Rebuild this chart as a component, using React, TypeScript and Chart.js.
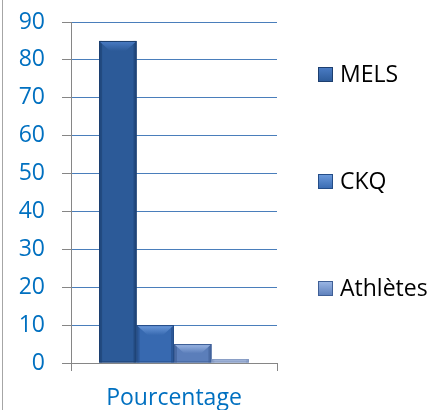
import React, { useEffect, useRef } from "react";
import { Chart, registerables } from "chart.js";

Chart.register(...registerables);

const categories = ["Pourcentage"];
const seriesNames = ["MELS", "CKQ", "Athlètes", "Autres"];
const melsValues = [85];
const ckqValues = [10];
const athletesValues = [5];
const autresValues = [1];
const legendNames = ["MELS", "CKQ", "Athlètes"];

const baseColors = ["#2c5a98", "#3769b0", "#5b7eba", "#a3b6da"];
const bevelColors = ["#4b7dc6", "#6e9cdd", "#9db8e6", "#c3d2ec"];
const edgeColors = ["#1d3f6f", "#244d88", "#3f5f96", "#7f95bf"];

const FONT = "'Open Sans', 'Liberation Sans', sans-serif";

const decorPlugin = {
  id: "decor",
  beforeDraw(chart: any) {
    const ctx = chart.ctx;
    ctx.save();
    ctx.strokeStyle = "#a6a6a6";
    ctx.lineWidth = 1;
    ctx.beginPath();
    ctx.moveTo(2.5, 0);
    ctx.lineTo(2.5, chart.height);
    ctx.stroke();
    ctx.restore();
  },
  afterDatasetsDraw(chart: any) {
    const ctx = chart.ctx;
    ctx.save();
    chart.data.datasets.forEach((ds: any, di: number) => {
      const meta = chart.getDatasetMeta(di);
      meta.data.forEach((bar: any) => {
        const { x, y, base, width } = bar.getProps(["x", "y", "base", "width"], true);
        const left = x - width / 2;
        const right = x + width / 2;
        const h = base - y;
        if (h <= 0) return;
        const bev = Math.min(10, h / 2);
        ctx.fillStyle = edgeColors[di];
        ctx.globalAlpha = 0.6;
        ctx.fillRect(left, y, 3, h);
        ctx.fillRect(right - 3, y, 3, h);
        ctx.globalAlpha = 1;
        const g = ctx.createLinearGradient(0, y, 0, y + bev);
        g.addColorStop(0, bevelColors[di]);
        g.addColorStop(1, baseColors[di]);
        ctx.fillStyle = g;
        ctx.beginPath();
        ctx.moveTo(left + 1, y + 1);
        ctx.lineTo(right - 1, y + 1);
        ctx.lineTo(right - 1 - bev, y + bev);
        ctx.lineTo(left + 1 + bev, y + bev);
        ctx.closePath();
        ctx.fill();
        ctx.strokeStyle = edgeColors[di];
        ctx.lineWidth = 1;
        ctx.strokeRect(left + 0.5, y + 0.5, width - 1, h - 1);
      });
    });
    ctx.restore();
  },
  afterDraw(chart: any) {
    const ctx = chart.ctx;
    ctx.save();
    const ys = [74, 181, 288];
    legendNames.forEach((name, i) => {
      const cy = ys[i];
      const g = ctx.createLinearGradient(0, cy - 7, 0, cy + 8);
      g.addColorStop(0, bevelColors[i]);
      g.addColorStop(1, baseColors[i]);
      ctx.fillStyle = g;
      ctx.fillRect(318, cy - 7, 15, 15);
      ctx.strokeStyle = edgeColors[i];
      ctx.lineWidth = 1;
      ctx.strokeRect(318.5, cy - 6.5, 14, 14);
      ctx.fillStyle = "#000000";
      ctx.font = `23px ${FONT}`;
      ctx.textBaseline = "alphabetic";
      ctx.textAlign = "left";
      ctx.fillText(name, 340, cy + 8);
    });
    ctx.restore();
  },
};

export default function App() {
  const ref = useRef<HTMLCanvasElement | null>(null);
  useEffect(() => {
    document.body.style.margin = "0";
    const values = [melsValues, ckqValues, athletesValues, autresValues];
    const chart = new Chart(ref.current as HTMLCanvasElement, {
      type: "bar",
      data: {
        labels: categories,
        datasets: seriesNames.map((name, i) => ({
          label: name,
          data: values[i],
          backgroundColor: baseColors[i],
          borderWidth: 0,
          categoryPercentage: 4 / 5.5,
          barPercentage: 1,
        })),
      },
      options: {
        animation: false,
        responsive: false,
        maintainAspectRatio: false,
        layout: { padding: { left: 0, right: 162, top: 22, bottom: 0 } },
        plugins: { legend: { display: false }, tooltip: { enabled: false } },
        scales: {
          x: {
            afterFit: (s: any) => {
              s.height = 47;
              s.paddingLeft = 0;
              s.paddingRight = 0;
            },
            grid: {
              drawOnChartArea: false,
              color: "#868686",
              tickColor: "#868686",
              tickLength: 8,
              offset: true,
            },
            border: { color: "#868686", width: 1 },
            ticks: {
              color: "#0070c0",
              font: { family: FONT, size: 23 },
              padding: 14,
            },
          },
          y: {
            min: 0,
            max: 90,
            afterFit: (s: any) => {
              s.width = 71;
              s.paddingTop = 0;
              s.paddingBottom = 0;
            },
            grid: {
              color: "#4a7ebb",
              tickColor: "#868686",
              tickLength: 9,
            },
            border: { color: "#868686", width: 1 },
            ticks: {
              stepSize: 10,
              color: "#0070c0",
              font: { family: FONT, size: 23 },
              padding: 17,
            },
          },
        },
      },
      plugins: [decorPlugin],
    } as any);
    return () => chart.destroy();
  }, []);
  return (
    <div style={{ width: 439, height: 410 }}>
      <canvas ref={ref} width={439} height={410} style={{ display: "block" }} />
    </div>
  );
}
